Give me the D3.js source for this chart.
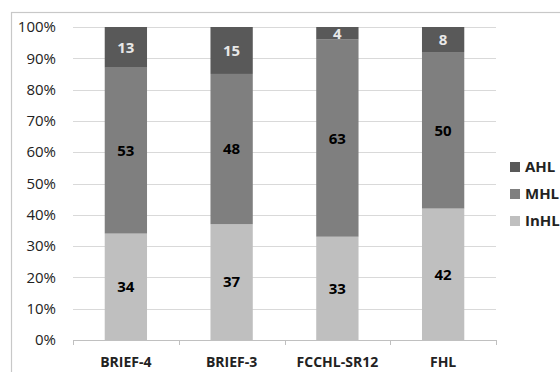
<!DOCTYPE html>
<html><head><meta charset="utf-8">
<script src="https://cdn.jsdelivr.net/npm/d3@7"></script>
<style>body{margin:0;background:#fff}svg{display:block}</style>
</head><body>
<svg id="c" width="560" height="372"></svg>
<script>
const categories = ["BRIEF-4", "BRIEF-3", "FCCHL-SR12", "FHL"];
const inhl = [34, 37, 33, 42];
const mhl = [53, 48, 63, 50];
const ahl = [13, 15, 4, 8];
const seriesNames = ["InHL", "MHL", "AHL"];
const seriesColors = ["#bfbfbf", "#7f7f7f", "#595959"];
const labelColors = ["#000", "#000", "#e8e8e8"];
const yTicks = [0, 10, 20, 30, 40, 50, 60, 70, 80, 90, 100];

const svg = d3.select("#c");
const font = "'Open Sans', 'Liberation Sans', sans-serif";
// chart frame
svg.append("rect").attr("x", 11.5).attr("y", 12.5).attr("width", 600).attr("height", 400)
  .attr("fill", "none").attr("stroke", "#c8c8c8").attr("stroke-width", 1.2);

const x = d3.scaleBand().domain(categories).range([73, 496]).paddingInner(0.6).paddingOuter(0.3);
const xb = d3.scaleBand().domain(categories).range([73, 496]);
const y = d3.scaleLinear().domain([0, 100]).range([340, 27]);

const g = svg.append("g");
// gridlines
g.selectAll("line.grid").data(yTicks.slice(1)).enter().append("line")
  .attr("x1", 73).attr("x2", 496).attr("y1", d => Math.round(y(d)) + 0.5).attr("y2", d => Math.round(y(d)) + 0.5)
  .attr("stroke", "#d9d9d9").attr("stroke-width", 1);

// y axis labels
g.selectAll("text.yt").data(yTicks).enter().append("text")
  .attr("x", 56).attr("y", d => y(d)).attr("dy", "0.35em").attr("text-anchor", "end")
  .attr("font-family", font).attr("font-size", 15).attr("fill", "#222").text(d => d + "%");

const rows = categories.map((c, i) => ({cat: c, vals: [inhl[i], mhl[i], ahl[i]]}));
const stack = d3.stack().keys([0, 1, 2]).value((d, k) => d.vals[k]);
const stacked = stack(rows);

stacked.forEach((layer, k) => {
  g.selectAll(null).data(layer).enter().append("rect")
    .attr("x", d => x(d.data.cat)).attr("width", x.bandwidth())
    .attr("y", d => y(d[1])).attr("height", d => y(d[0]) - y(d[1]))
    .attr("fill", seriesColors[k]);
});
stacked.forEach((layer, k) => {
  g.selectAll(null).data(layer).enter().append("text")
    .attr("x", d => x(d.data.cat) + x.bandwidth() / 2)
    .attr("y", d => y((d[0] + d[1]) / 2)).attr("dy", "0.36em")
    .attr("text-anchor", "middle").attr("font-family", font).attr("font-weight", "bold")
    .attr("font-size", 15).attr("fill", labelColors[k]).text(d => d[1] - d[0]);
});

// x axis line
g.append("line").attr("x1", 73).attr("x2", 496).attr("y1", 340.5).attr("y2", 340.5).attr("stroke", "#c0c0c0");
const bounds = [73, 73 + xb.bandwidth(), 73 + 2 * xb.bandwidth(), 73 + 3 * xb.bandwidth(), 496];
g.selectAll("line.tk").data(bounds).enter().append("line")
  .attr("x1", d => Math.round(d) + 0.5).attr("x2", d => Math.round(d) + 0.5).attr("y1", 340).attr("y2", 345)
  .attr("stroke", "#c0c0c0");
g.selectAll("text.xl").data(categories).enter().append("text")
  .attr("x", d => xb(d) + xb.bandwidth() / 2).attr("y", 362).attr("dy", "0.35em")
  .attr("text-anchor", "middle").attr("font-family", font).attr("font-weight", "bold")
  .attr("font-size", 14).attr("fill", "#222").text(d => d);

// legend
const legendItems = [2, 1, 0];
const lg = svg.append("g");
legendItems.forEach((k, i) => {
  const ly = 167 + i * 27;
  lg.append("rect").attr("x", 510).attr("y", ly - 5).attr("width", 10).attr("height", 10).attr("fill", seriesColors[k]);
  lg.append("text").attr("x", 525).attr("y", ly).attr("dy", "0.36em")
    .attr("font-family", font).attr("font-weight", "bold").attr("font-size", 15).attr("fill", "#222")
    .text(seriesNames[k]);
});
</script>
</body></html>
